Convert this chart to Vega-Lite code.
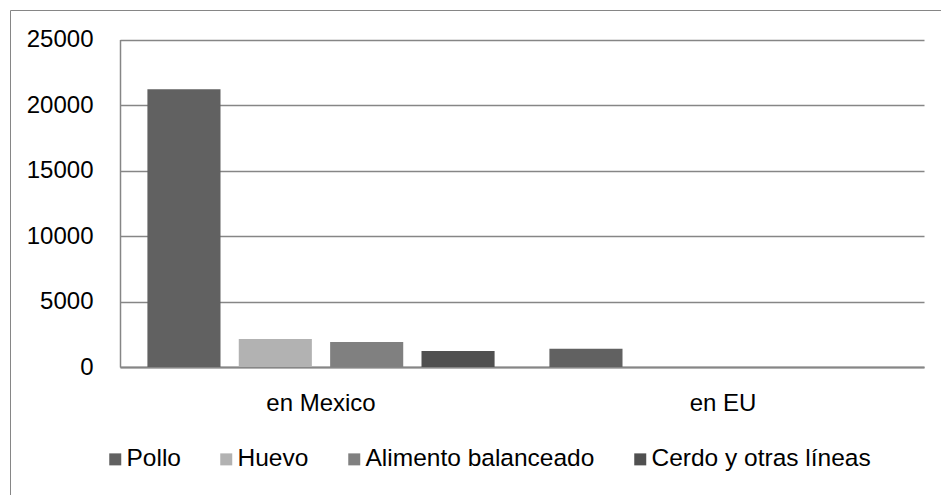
{
  "$schema": "https://vega.github.io/schema/vega-lite/v6.json",
  "width": 931,
  "height": 485,
  "autosize": {"type": "none"},
  "padding": {"left": 10, "top": 10, "right": 0, "bottom": 0},
  "background": "white",
  "data": {
    "values": [
      {"region": "en Mexico", "product": "Pollo", "value": 21200},
      {"region": "en Mexico", "product": "Huevo", "value": 2140},
      {"region": "en Mexico", "product": "Alimento balanceado", "value": 1900},
      {"region": "en Mexico", "product": "Cerdo y otras líneas", "value": 1220},
      {"region": "en EU", "product": "Pollo", "value": 1400}
    ]
  },
  "mark": {"type": "bar"},
  "encoding": {
    "x": {
      "field": "region",
      "type": "nominal",
      "sort": ["en Mexico", "en EU"],
      "scale": {"range": [110, 914], "paddingInner": 0, "paddingOuter": 0},
      "axis": {
        "title": null,
        "orient": "bottom",
        "offset": -128,
        "labelAngle": 0,
        "ticks": false,
        "grid": false,
        "labelPadding": 24,
        "labelFont": "Liberation Sans",
        "labelFontSize": 24,
        "labelColor": "#000000",
        "domainColor": "#868686",
        "domainWidth": 2
      }
    },
    "xOffset": {
      "field": "product",
      "type": "nominal",
      "sort": ["Pollo", "Huevo", "Alimento balanceado", "Cerdo y otras líneas"],
      "scale": {"paddingInner": 0.2, "paddingOuter": 0.3}
    },
    "y": {
      "field": "value",
      "type": "quantitative",
      "scale": {"domain": [0, 25000], "range": [357, 29.5], "nice": false},
      "axis": {
        "title": null,
        "values": [0, 5000, 10000, 15000, 20000, 25000],
        "format": "d",
        "offset": -110,
        "ticks": false,
        "labelPadding": 27,
        "labelFont": "Liberation Sans",
        "labelFontSize": 24,
        "labelColor": "#000000",
        "grid": true,
        "gridColor": "#868686",
        "gridWidth": 1.5,
        "domainColor": "#868686",
        "domainWidth": 1.5
      }
    },
    "color": {
      "field": "product",
      "type": "nominal",
      "scale": {
        "domain": ["Pollo", "Huevo", "Alimento balanceado", "Cerdo y otras líneas"],
        "range": ["#616161", "#b2b2b2", "#808080", "#505050"]
      },
      "legend": {
        "title": null,
        "orient": "none",
        "direction": "horizontal",
        "legendX": 93,
        "legendY": 437,
        "padding": 0,
        "symbolType": "square",
        "symbolSize": 144,
        "symbolStrokeWidth": 0,
        "labelFont": "Liberation Sans",
        "labelFontSize": 24.5,
        "labelColor": "#000000",
        "labelOffset": -1,
        "labelLimit": 400,
        "columnPadding": 33
      }
    }
  },
  "config": {
    "view": {"stroke": "#868686", "strokeWidth": 1}
  }
}
